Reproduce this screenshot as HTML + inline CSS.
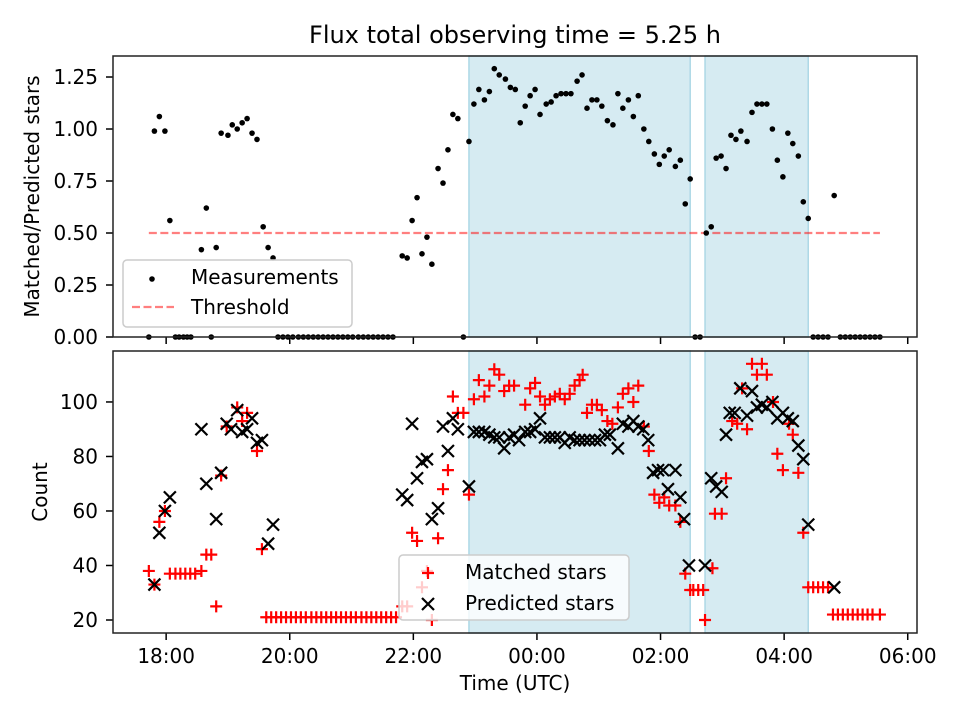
<!DOCTYPE html>
<html><head><meta charset="utf-8"><style>
body{margin:0;background:#fff;}
svg text{font-family:"DejaVu Sans","Liberation Sans",sans-serif;fill:#000;}
</style></head><body>
<svg id="chart" width="960" height="720" xmlns="http://www.w3.org/2000/svg"></svg>
<script>
// ---- data ----
const topTimes=[17.72,17.81,17.89,17.98,18.06,18.15,18.21,18.28,18.34,18.40,18.57,18.65,18.73,18.81,18.89,19.00,19.07,19.15,19.23,19.31,19.39,19.47,19.57,19.65,19.73,
19.81,19.89,19.97,20.05,20.14,20.22,20.30,20.38,20.46,20.54,20.62,20.70,20.78,20.86,20.94,21.02,21.11,21.19,21.27,21.35,21.43,21.51,21.59,21.67,
21.82,21.90,21.98,22.06,22.14,22.22,22.30,22.40,22.48,22.56,22.64,22.72,22.81,22.90,22.98,23.06,23.15,23.23,23.31,23.39,23.49,23.57,23.65,23.73,23.81,23.89,23.97,24.05,
24.15,24.23,24.31,24.39,24.47,24.55,24.65,24.73,24.81,24.89,24.97,25.05,25.14,25.23,25.31,25.39,25.48,25.56,25.64,25.73,25.81,25.90,25.98,26.06,26.14,26.24,26.32,26.40,26.48,26.56,26.64,
26.74,26.82,26.90,26.98,27.06,27.14,27.22,27.30,27.40,27.48,27.56,27.64,27.72,27.81,27.89,27.98,28.06,28.14,28.23,28.31,28.39,28.47,28.55,28.63,28.71,28.81,
28.91,28.99,29.07,29.15,29.23,29.31,29.39,29.47,29.55];
const topRatio=[0,0.99,1.06,0.99,0.56,0,0,0,0,0,0.42,0.62,0,0.43,0.98,0.97,1.02,1.00,1.03,1.05,0.98,0.95,0.53,0.43,0.38,
0,0,0,0,0,0,0,0,0,0,0,0,0,0,0,0,0,0,0,0,0,0,0,0,
0.39,0.38,0.56,0.67,0.40,0.48,0.35,0.81,0.74,0.90,1.07,1.05,0,0.94,1.12,1.19,1.14,1.18,1.29,1.26,1.24,1.20,1.19,1.03,1.11,1.16,1.19,1.07,
1.12,1.13,1.16,1.17,1.17,1.17,1.23,1.26,1.10,1.14,1.14,1.11,1.04,1.02,1.17,1.10,1.14,1.06,1.16,1.00,0.94,0.88,0.83,0.87,0.90,0.82,0.85,0.64,0.76,0,0,
0.50,0.53,0.86,0.87,0.81,0.97,0.95,0.99,0.94,1.08,1.12,1.12,1.12,1.00,0.85,0.77,0.98,0.93,0.87,0.65,0.57,0,0,0,0,0.68,
0,0,0,0,0,0,0,0,0];
const thresholdValue=0.5;
const thresholdRange=[17.72,29.55];
const nightBands=[[22.90,26.48],[26.72,28.39]];

const matchedTimes=[17.72,17.81,17.89,17.98,18.06,18.15,18.23,18.31,18.39,18.47,18.57,18.65,18.73,18.81,18.89,18.98,19.15,19.23,19.31,19.47,19.55,
19.62,19.70,19.78,19.86,19.94,20.02,20.10,20.18,20.26,20.35,20.43,20.51,20.59,20.67,20.75,20.83,20.91,20.99,21.07,21.16,21.24,21.32,21.40,21.48,21.56,21.64,21.72,
21.82,21.90,21.98,22.06,22.14,22.22,22.30,22.40,22.48,22.56,22.64,22.72,22.81,22.90,22.98,23.06,23.15,23.23,23.31,23.39,23.47,23.55,23.63,23.81,23.89,23.97,24.05,24.13,24.21,24.29,24.37,24.45,24.53,24.61,24.69,24.74,
24.81,24.89,24.97,25.05,25.14,25.22,25.31,25.39,25.48,25.56,25.64,25.73,25.81,25.90,25.98,26.06,26.14,26.24,26.32,26.40,26.48,26.53,26.61,26.69,
26.72,26.84,26.88,26.99,27.06,27.16,27.24,27.32,27.40,27.48,27.56,27.64,27.72,27.82,27.89,27.98,28.08,28.14,28.23,28.31,
28.39,28.47,28.55,28.63,28.71,28.79,28.87,28.95,29.03,29.11,29.19,29.27,29.35,29.43,29.55];
const matchedCounts=[38,33,56,60,37,37,37,37,37,37,38,44,44,25,73,91,98,93,96,82,46,
21,21,21,21,21,21,21,21,21,21,21,21,21,21,21,21,21,21,21,21,21,21,21,21,21,21,21,
25,25,52,49,32,38,20,50,68,75,102,96,96,66,101,108,102,106,112,110,104,106,106,99,105,107,102,99,101,102,103,101,103,106,108,110,
96,99,99,97,93,92,98,103,105,100,106,91,82,66,63,65,62,62,56,37,31,31,31,31,
20,39,59,59,72,93,92,105,90,114,110,114,110,100,81,75,92,88,74,52,
32,32,32,32,32,22,22,22,22,22,22,22,22,22,22];

const predictedTimes=[17.81,17.89,17.98,18.06,18.57,18.65,18.81,18.89,18.98,19.05,19.15,19.23,19.31,19.39,19.47,19.55,19.65,19.73,
21.82,21.90,21.98,22.06,22.14,22.22,22.30,22.40,22.48,22.56,22.64,22.72,22.90,22.98,23.06,23.15,23.23,23.31,23.39,23.47,23.55,23.63,23.71,23.81,23.89,23.97,24.05,24.13,24.21,24.29,24.37,24.45,24.53,24.61,24.69,24.77,24.85,24.94,25.02,25.10,25.18,25.31,25.39,25.48,25.56,25.64,25.72,25.80,25.88,25.96,26.04,26.12,26.24,26.32,26.38,26.46,
26.72,26.82,26.90,26.99,27.06,27.12,27.20,27.29,27.40,27.48,27.56,27.64,27.72,27.81,27.89,27.98,28.06,28.14,28.23,28.31,28.39,28.81];
const predictedCounts=[33,52,60,65,90,70,57,74,92,90,97,89,90,94,85,86,48,55,
66,64,92,72,78,79,57,61,91,82,94,90,69,89,89,89,88,87,87,83,87,88,86,89,89,90,94,87,87,87,87,85,87,86,86,86,86,86,86,88,88,83,92,91,93,91,90,86,74,75,75,68,75,65,57,40,
40,72,69,67,88,96,96,105,95,104,98,99,98,100,94,96,94,93,84,79,55,32];

const xTickValues=[18,20,22,24,26,28,30];
const xTickLabels=["18:00","20:00","22:00","00:00","02:00","04:00","06:00"];
const topTickValues=[0,0.25,0.5,0.75,1.0,1.25];
const topTickLabels=["0.00","0.25","0.50","0.75","1.00","1.25"];
const bottomTickValues=[20,40,60,80,100];
const bottomTickLabels=["20","40","60","80","100"];

// ---- layout ----
const NS="http://www.w3.org/2000/svg";
const svg=document.getElementById('chart');
const L=113,R=917;
const TT=56,TB=337,BT=351,BB=633;
const xMin=17.14,xMax=30.15;
const topMin=0,topMax=1.351;
const botMin=15.23,botMax=118.7;
const FS=20;
function xs(t){return L+(t-xMin)/(xMax-xMin)*(R-L);}
function yTop(v){return TB-(v-topMin)/(topMax-topMin)*(TB-TT);}
function yBot(v){return BB-(v-botMin)/(botMax-botMin)*(BB-BT);}
function mk(tag,attrs,parent){const e=document.createElementNS(NS,tag);for(const k in attrs)e.setAttribute(k,attrs[k]);(parent||svg).appendChild(e);return e;}

const title=mk('text',{x:515,y:43,'text-anchor':'middle','font-size':'24'});
title.textContent='Flux total observing time = 5.25 h';



function panel(top,bottom,name,yfun,tickVals,tickLabs,ylabel,ylabelX){
  const g=mk('g',{});
  
  
  nightBands.forEach((b,i)=>{
    const r=mk('rect',{x:xs(b[0]),y:top,width:xs(b[1])-xs(b[0]),height:bottom-top,fill:'#add8e6','fill-opacity':0.5,stroke:'#add8e6','stroke-width':1.5},g);
    
    
  });
  tickVals.forEach((v,i)=>{
    const y=yfun(v);
    mk('line',{x1:L-7,x2:L,y1:y,y2:y,stroke:'#000','stroke-width':1.5},g);
    const t=mk('text',{x:L-15,y:y+7,'text-anchor':'end','font-size':FS},g);
    t.textContent=tickLabs[i];
    
    
  });
  xTickValues.forEach(v=>{
    const x=xs(v);
    mk('line',{x1:x,x2:x,y1:bottom,y2:bottom+7,stroke:'#000','stroke-width':1.5},g);
  });
  const cy=(top+bottom)/2;
  const yl=mk('text',{x:ylabelX,y:cy,'text-anchor':'middle','font-size':FS,transform:`rotate(-90 ${ylabelX} ${cy})`},g);
  yl.textContent=ylabel;
  
  
  return g;
}
const gTop=panel(TT,TB,'top-panel',yTop,topTickValues,topTickLabels,'Matched/Predicted stars',39);
const gBot=panel(BT,BB,'bottom-panel',yBot,bottomTickValues,bottomTickLabels,'Count',47);

const th=mk('line',{x1:xs(thresholdRange[0]),x2:xs(thresholdRange[1]),y1:yTop(thresholdValue),y2:yTop(thresholdValue),stroke:'#ff0000','stroke-opacity':0.5,'stroke-width':2.2,'stroke-dasharray':'8,3.5'},gTop);



topTimes.forEach((t,i)=>{
  const c=mk('circle',{cx:xs(t),cy:yTop(topRatio[i]),r:2.8,fill:'#000'},gTop);
  
  
});
function plus(x,y,g,col){return mk('path',{d:`M${x-6},${y}H${x+6}M${x},${y-6}V${y+6}`,stroke:col,'stroke-width':2.2,fill:'none'},g);}
function cross(x,y,g){return mk('path',{d:`M${x-6},${y-6}L${x+6},${y+6}M${x-6},${y+6}L${x+6},${y-6}`,stroke:'#000','stroke-width':2.2,fill:'none'},g);}
matchedTimes.forEach((t,i)=>{
  const p=plus(xs(t),yBot(matchedCounts[i]),gBot,'#ff0000');
  
  
});
predictedTimes.forEach((t,i)=>{
  const p=cross(xs(t),yBot(predictedCounts[i]),gBot);
  
  
});

[[TT,TB],[BT,BB]].forEach(([a,b])=>{
  const f=mk('rect',{x:L,y:a,width:R-L,height:b-a,fill:'none',stroke:'#222','stroke-width':1.5});
  
  
});
xTickValues.forEach((v,i)=>{
  const t=mk('text',{x:xs(v),y:BB+30,'text-anchor':'middle','font-size':FS});
  t.textContent=xTickLabels[i];
  
  
});
const xl=mk('text',{x:515,y:690,'text-anchor':'middle','font-size':FS});
xl.textContent='Time (UTC)';



const lg1=mk('g',{});


mk('rect',{x:123,y:260,width:229,height:67,rx:4,fill:'#fff','fill-opacity':0.8,stroke:'#ccc','stroke-width':1.5},lg1);
mk('circle',{cx:152,cy:279,r:2.8,fill:'#000'},lg1);
const t1=mk('text',{x:191,y:284,'font-size':FS},lg1);t1.textContent='Measurements';


mk('line',{x1:132,x2:174,y1:307,y2:307,stroke:'#ff0000','stroke-opacity':0.5,'stroke-width':2.2,'stroke-dasharray':'8,3.5'},lg1);
const t2=mk('text',{x:191,y:314,'font-size':FS},lg1);t2.textContent='Threshold';



const lg2=mk('g',{});


mk('rect',{x:399,y:555,width:230,height:65,rx:4,fill:'#fff','fill-opacity':0.8,stroke:'#ccc','stroke-width':1.5},lg2);
plus(428,573,lg2,'#ff0000');
const t3=mk('text',{x:465,y:579,'font-size':FS},lg2);t3.textContent='Matched stars';


cross(428,604,lg2);
const t4=mk('text',{x:465,y:610,'font-size':FS},lg2);t4.textContent='Predicted stars';


</script>
</body></html>
